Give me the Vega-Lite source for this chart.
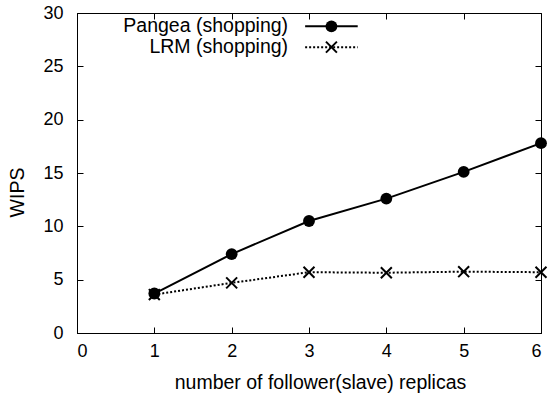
{
  "$schema": "https://vega.github.io/schema/vega-lite/v6.json",
  "autosize": {"type": "none"},
  "width": 464,
  "height": 320,
  "padding": {"left": 77, "top": 13, "right": 9, "bottom": 60},
  "background": "white",
  "config": {
    "font": "Liberation Sans",
    "view": {"stroke": "black", "strokeWidth": 1},
    "axis": {
      "grid": false,
      "domainColor": "black",
      "tickColor": "black",
      "tickSize": -6,
      "labelColor": "black",
      "titleColor": "black",
      "labelFont": "Liberation Sans",
      "titleFont": "Liberation Sans",
      "labelFontSize": 18,
      "titleFontSize": 19.5,
      "titleFontWeight": "normal"
    }
  },
  "datasets": {
    "series": [
      {"replicas": 1, "wips": 3.7, "system": "Pangea (shopping)"},
      {"replicas": 2, "wips": 7.4, "system": "Pangea (shopping)"},
      {"replicas": 3, "wips": 10.5, "system": "Pangea (shopping)"},
      {"replicas": 4, "wips": 12.6, "system": "Pangea (shopping)"},
      {"replicas": 5, "wips": 15.1, "system": "Pangea (shopping)"},
      {"replicas": 6, "wips": 17.8, "system": "Pangea (shopping)"},
      {"replicas": 1, "wips": 3.6, "system": "LRM (shopping)"},
      {"replicas": 2, "wips": 4.7, "system": "LRM (shopping)"},
      {"replicas": 3, "wips": 5.7, "system": "LRM (shopping)"},
      {"replicas": 4, "wips": 5.65, "system": "LRM (shopping)"},
      {"replicas": 5, "wips": 5.75, "system": "LRM (shopping)"},
      {"replicas": 6, "wips": 5.7, "system": "LRM (shopping)"}
    ],
    "legend": [
      {"system": "Pangea (shopping)", "x1": 2.95, "x2": 3.63, "xm": 3.29, "xt": 2.73, "y": 28.75},
      {"system": "LRM (shopping)", "x1": 2.95, "x2": 3.63, "xm": 3.29, "xt": 2.73, "y": 26.8}
    ]
  },
  "layer": [
    {
      "data": {"name": "series"},
      "transform": [{"filter": "datum.system === 'Pangea (shopping)'"}],
      "mark": {"type": "line", "color": "black", "strokeWidth": 2},
      "encoding": {
        "x": {"field": "replicas", "type": "quantitative", "scale": {"domain": [0, 6]}, "axis": {"title": "number of follower(slave) replicas", "tickCount": 6, "labelPadding": 15, "titleX": 243, "titleY": 55, "titleBaseline": "alphabetic"}},
        "y": {"field": "wips", "type": "quantitative", "scale": {"domain": [0, 30]}, "axis": {"title": "WIPS", "values": [0, 5, 10, 15, 20, 25, 30], "labelPadding": 20, "titleX": -60, "titleY": 179, "titleBaseline": "middle"}}
      }
    },
    {
      "data": {"name": "series"},
      "transform": [{"filter": "datum.system === 'Pangea (shopping)'"}],
      "mark": {"type": "point", "shape": "circle", "filled": true, "color": "black", "size": 140, "opacity": 1},
      "encoding": {
        "x": {"field": "replicas", "type": "quantitative", "scale": {"domain": [0, 6]}, "axis": null},
        "y": {"field": "wips", "type": "quantitative", "scale": {"domain": [0, 30]}, "axis": null}
      }
    },
    {
      "data": {"name": "series"},
      "transform": [{"filter": "datum.system === 'LRM (shopping)'"}],
      "mark": {"type": "line", "color": "black", "strokeWidth": 2, "strokeDash": [2, 2]},
      "encoding": {
        "x": {"field": "replicas", "type": "quantitative", "scale": {"domain": [0, 6]}, "axis": {"orient": "top", "labels": false, "title": null, "tickCount": 6, "domain": false}},
        "y": {"field": "wips", "type": "quantitative", "scale": {"domain": [0, 30]}, "axis": {"orient": "right", "labels": false, "title": null, "values": [0, 5, 10, 15, 20, 25, 30], "domain": false}}
      }
    },
    {
      "data": {"name": "series"},
      "transform": [{"filter": "datum.system === 'LRM (shopping)'"}],
      "mark": {"type": "point", "shape": "M-1,-1L1,1M-1,1L1,-1", "filled": false, "color": "black", "strokeWidth": 2, "size": 120, "opacity": 1},
      "encoding": {
        "x": {"field": "replicas", "type": "quantitative", "scale": {"domain": [0, 6]}, "axis": null},
        "y": {"field": "wips", "type": "quantitative", "scale": {"domain": [0, 30]}, "axis": null}
      }
    },
    {
      "data": {"name": "legend"},
      "mark": {"type": "text", "align": "right", "baseline": "middle", "fontSize": 19.5, "color": "black", "font": "Liberation Sans"},
      "encoding": {
        "x": {"field": "xt", "type": "quantitative", "scale": {"domain": [0, 6]}, "axis": null},
        "y": {"field": "y", "type": "quantitative", "scale": {"domain": [0, 30]}, "axis": null},
        "text": {"field": "system"}
      }
    },
    {
      "data": {"name": "legend"},
      "mark": {"type": "rule", "color": "black", "strokeWidth": 2},
      "encoding": {
        "x": {"field": "x1", "type": "quantitative", "scale": {"domain": [0, 6]}, "axis": null},
        "x2": {"field": "x2"},
        "y": {"field": "y", "type": "quantitative", "scale": {"domain": [0, 30]}, "axis": null},
        "strokeDash": {"field": "system", "type": "nominal", "scale": {"domain": ["Pangea (shopping)", "LRM (shopping)"], "range": [[1, 0], [2, 2]]}, "legend": null}
      }
    },
    {
      "data": {"name": "legend"},
      "transform": [{"filter": "datum.system === 'Pangea (shopping)'"}],
      "mark": {"type": "point", "shape": "circle", "filled": true, "color": "black", "size": 140, "opacity": 1},
      "encoding": {
        "x": {"field": "xm", "type": "quantitative", "scale": {"domain": [0, 6]}, "axis": null},
        "y": {"field": "y", "type": "quantitative", "scale": {"domain": [0, 30]}, "axis": null}
      }
    },
    {
      "data": {"name": "legend"},
      "transform": [{"filter": "datum.system === 'LRM (shopping)'"}],
      "mark": {"type": "point", "shape": "M-1,-1L1,1M-1,1L1,-1", "filled": false, "color": "black", "strokeWidth": 2, "size": 120, "opacity": 1},
      "encoding": {
        "x": {"field": "xm", "type": "quantitative", "scale": {"domain": [0, 6]}, "axis": null},
        "y": {"field": "y", "type": "quantitative", "scale": {"domain": [0, 30]}, "axis": null}
      }
    }
  ],
  "resolve": {"axis": {"x": "independent", "y": "independent"}}
}
